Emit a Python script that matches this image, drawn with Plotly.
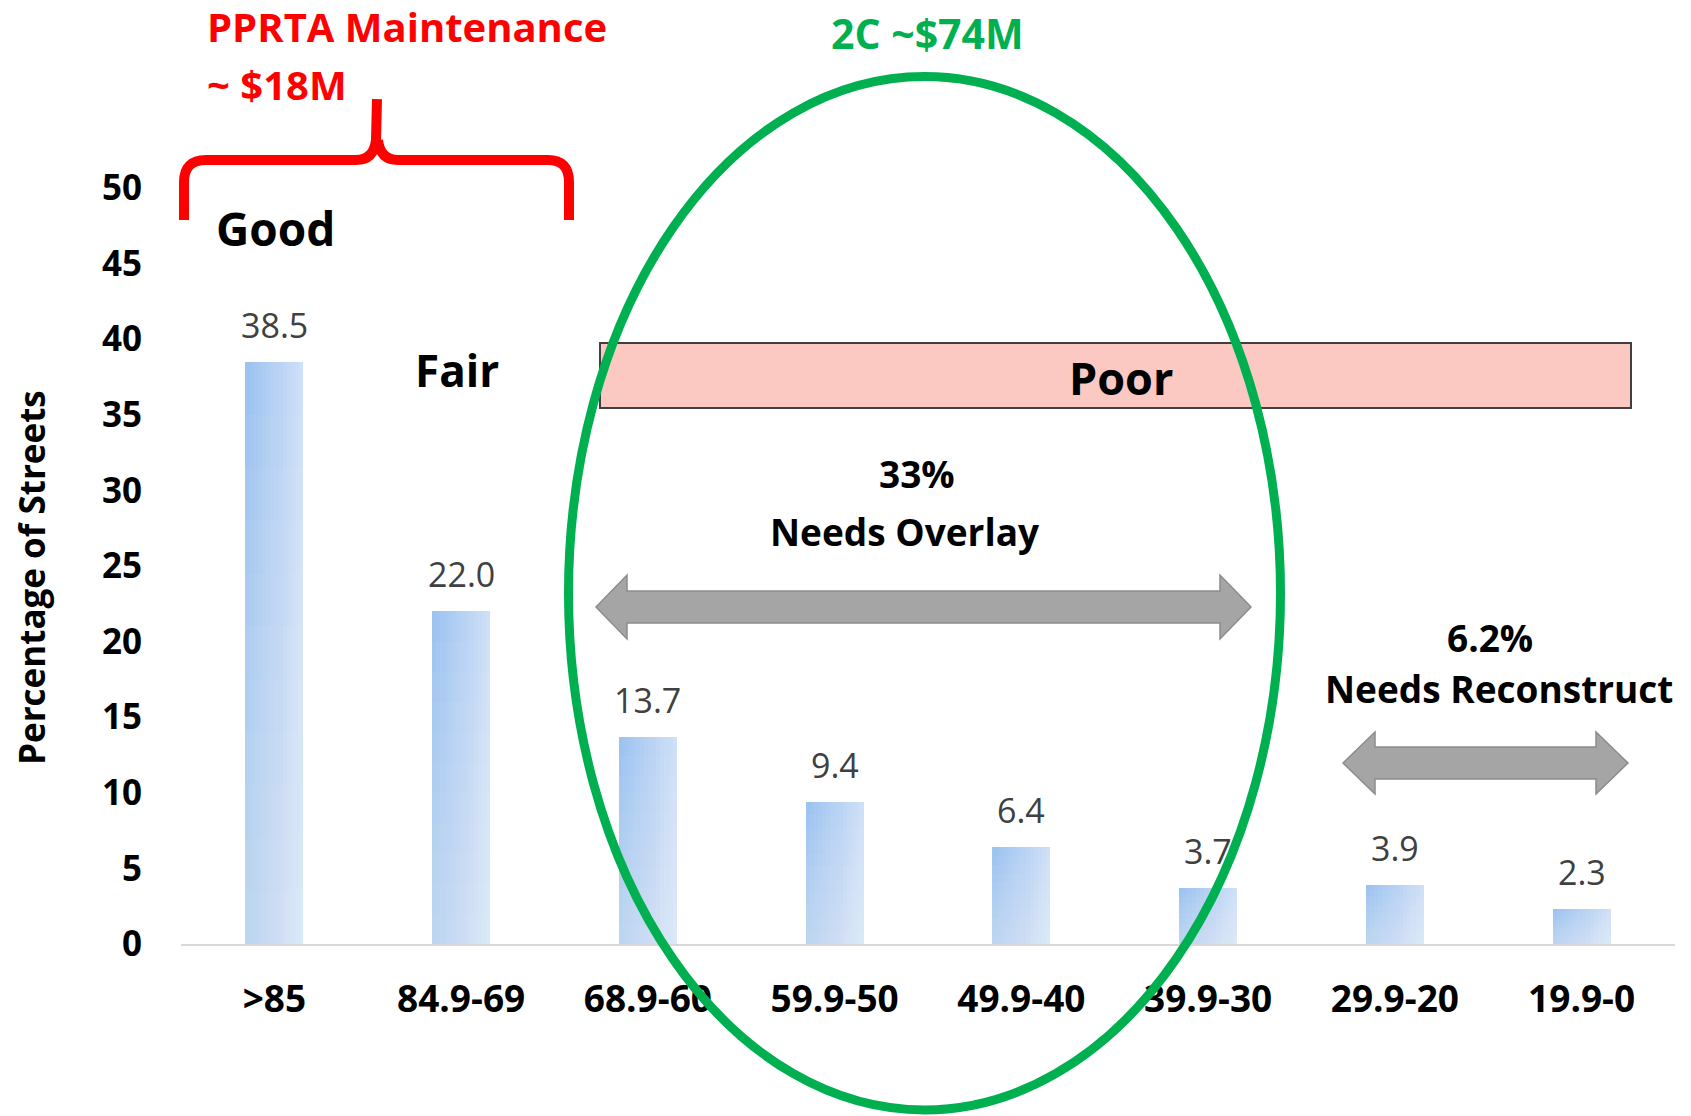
import plotly.graph_objects as go

# ---------------- data ----------------
categories = [">85", "84.9-69", "68.9-60", "59.9-50", "49.9-40", "39.9-30", "29.9-20", "19.9-0"]
percentages = [38.5, 22.0, 13.7, 9.4, 6.4, 3.7, 3.9, 2.3]
value_labels = ["38.5", "22.0", "13.7", "9.4", "6.4", "3.7", "3.9", "2.3"]
y_ticks = [0, 5, 10, 15, 20, 25, 30, 35, 40, 45, 50]

# ---------------- geometry helpers ----------------
W, H = 1691, 1116
PL, PR, PT, PB = 181, 1675, 188, 944  # plot area in pixels


def fx(p):
    return (p - PL) / (PR - PL)


def fy(p):
    return (PB - p) / (PB - PT)


def P(x, y):
    return f"{fx(x):.5f},{fy(y):.5f}"


FONT = "Open Sans"
idx = list(range(len(categories)))

fig = go.Figure()

# bars with a diagonal gradient: horizontal colour slices of the same bars ...
BAR_W = 0.31
N = 14
c0 = (157, 195, 240)
c1 = (206, 223, 247)
step = BAR_W / N
for k in range(N):
    t = k / (N - 1)
    col = "rgb(%d,%d,%d)" % tuple(round(a + (b - a) * t) for a, b in zip(c0, c1))
    fig.add_trace(go.Bar(
        x=idx, y=percentages,
        width=BAR_W - k * step, offset=-BAR_W / 2 + k * step,
        marker=dict(color=col, line=dict(width=0)),
        showlegend=False, hoverinfo="skip",
    ))
# ... plus a soft white fade towards the bottom of each bar
M = 10
for k in range(1, M + 1):
    frac = 1 - k / (M + 1)
    fig.add_trace(go.Bar(
        x=idx, y=[v * frac for v in percentages],
        width=BAR_W, offset=-BAR_W / 2,
        marker=dict(color="rgba(255,255,255,0.042)", line=dict(width=0)),
        showlegend=False, hoverinfo="skip",
    ))

# value labels above bars
for i, (v, lab) in enumerate(zip(percentages, value_labels)):
    fig.add_annotation(x=i, y=v, xref="x", yref="y", text=lab, showarrow=False,
                       yanchor="bottom", yshift=12,
                       font=dict(family=FONT, size=34, color="#404040"))

shapes = []

# Poor box
shapes.append(dict(type="rect", xref="paper", yref="paper",
                   x0=fx(600), x1=fx(1631), y0=fy(408), y1=fy(343),
                   fillcolor="#FBC8C2", line=dict(color="#404040", width=2), layer="above"))


def double_arrow(x0, x1, yc, h, Hh, L):
    pts = [(x0, yc), (x0 + L, yc - Hh), (x0 + L, yc - h), (x1 - L, yc - h), (x1 - L, yc - Hh),
           (x1, yc), (x1 - L, yc + Hh), (x1 - L, yc + h), (x0 + L, yc + h), (x0 + L, yc + Hh)]
    return "M " + " L ".join(P(a, b) for a, b in pts) + " Z"


for a in [(596, 1251, 607, 16, 32, 31), (1343, 1628, 763, 16, 31, 32)]:
    shapes.append(dict(type="path", xref="paper", yref="paper", path=double_arrow(*a),
                       fillcolor="#A5A5A5", line=dict(color="#8C8C8C", width=1.5), layer="above"))

# red brace
brace = (f"M {P(184,220)} L {P(184,182)} Q {P(184,160)} {P(206,160)} L {P(356,160)} "
         f"Q {P(374,160)} {P(376,140)} L {P(377,99)} "
         f"M {P(378,140)} Q {P(380,160)} {P(398,160)} L {P(548,160)} "
         f"Q {P(569,160)} {P(569,182)} L {P(569,220)}")
shapes.append(dict(type="path", xref="paper", yref="paper", path=brace,
                   fillcolor="rgba(0,0,0,0)", line=dict(color="#FF0000", width=10), layer="above"))

# green ellipse
shapes.append(dict(type="circle", xref="paper", yref="paper",
                   x0=fx(568.5), x1=fx(1280.5), y0=fy(1110), y1=fy(76.5),
                   line=dict(color="#00B050", width=9), fillcolor="rgba(0,0,0,0)", layer="above"))


def txt(x, y, s, size, color="#000000", xanchor="center", bold=True, angle=0):
    fig.add_annotation(x=fx(x), y=fy(y), xref="paper", yref="paper", text=s, showarrow=False,
                       xanchor=xanchor, yanchor="middle", textangle=angle,
                       font=dict(family=FONT, size=size, color=color,
                                 weight="bold" if bold else "normal"))


txt(205, 27, "PPRTA Maintenance", 40, "#FF0000", xanchor="left")
txt(205, 85, "~ $18M", 40, "#FF0000", xanchor="left")
txt(927, 33, "2C ~$74M", 41, "#00B050")
txt(275, 228, "Good", 46)
txt(457, 370, "Fair", 44)
txt(1121, 377, "Poor", 45)
txt(917, 474, "33%", 37)
txt(905, 531, "Needs Overlay", 37)
txt(1490, 637, "6.2%", 37)
txt(1499, 688, "Needs Reconstruct", 37)
txt(31, 578, "Percentage of Streets", 35, angle=-90)

fig.update_layout(
    width=W, height=H,
    margin=dict(l=PL, r=W - PR, t=PT, b=H - PB, pad=0),
    paper_bgcolor="white", plot_bgcolor="white",
    barmode="overlay", bargap=0,
    showlegend=False,
    shapes=shapes,
    xaxis=dict(type="linear", range=[-0.5, 7.5], tickvals=idx, ticktext=categories,
               showgrid=False, zeroline=False, showline=True, linecolor="#D9D9D9", linewidth=2,
               ticks="", ticklabelstandoff=22,
               tickfont=dict(family=FONT, size=37, color="#000000", weight="bold")),
    yaxis=dict(range=[0, 50], tickvals=y_ticks, showgrid=False, zeroline=False, showline=False,
               ticks="", ticklabelstandoff=38,
               tickfont=dict(family=FONT, size=35, color="#000000", weight="bold")),
)

fig.write_html("out.html", config={"displayModeBar": False},
               post_script="document.body.style.margin='0';document.body.style.overflow='hidden';")
